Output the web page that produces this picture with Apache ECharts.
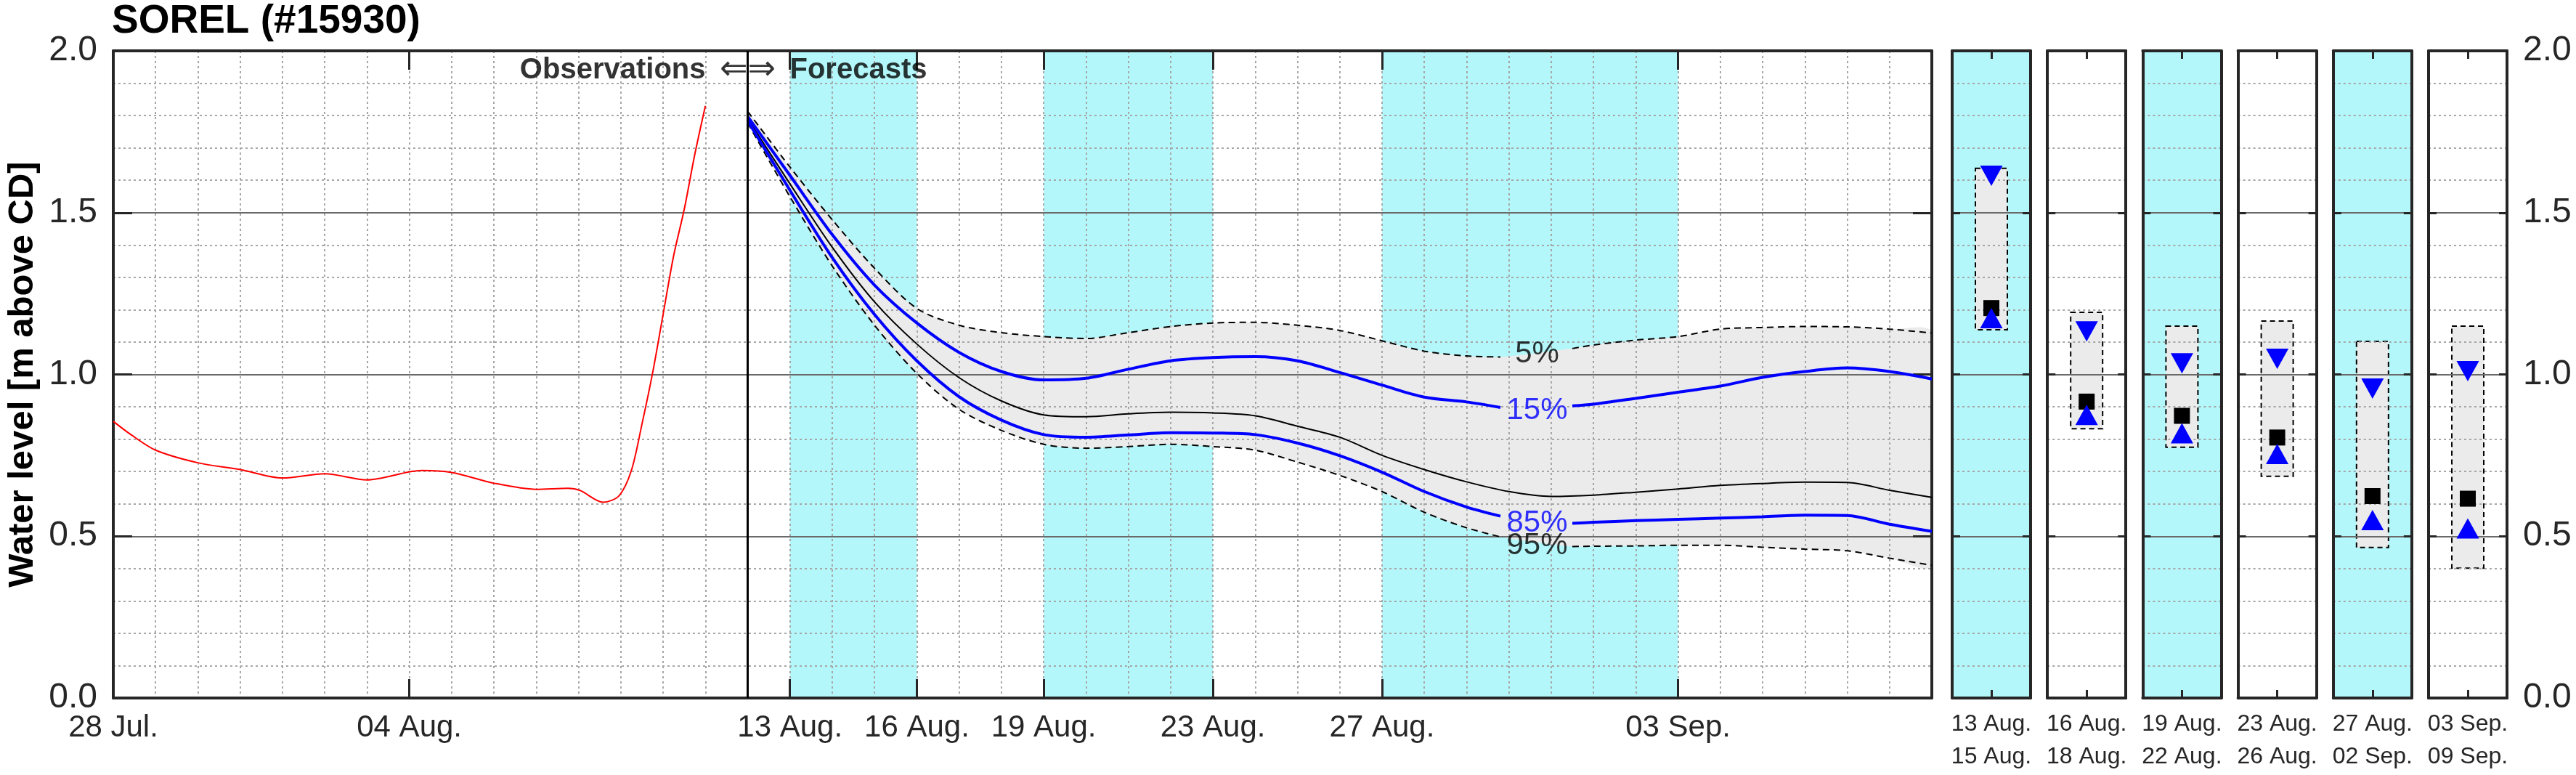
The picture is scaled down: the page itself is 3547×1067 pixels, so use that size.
<!DOCTYPE html>
<html>
<head>
<meta charset="utf-8">
<script src="https://cdn.jsdelivr.net/npm/echarts@6.0.0/dist/echarts.min.js"></script>
<style>
html,body{margin:0;padding:0;background:#ffffff;}
#chart{width:3547px;height:1067px;}
</style>
</head>
<body>
<div id="chart"></div>
<script>
// ---------------- data ----------------
const chartTitle = 'SOREL (#15930)';
const yAxisTitle = 'Water level [m above CD]';
const axisStart = '2024-07-28T00:00';
const axisEnd = '2024-09-09T00:00';
const forecastStart = '2024-08-12T00:00';
const yMin = 0, yMax = 2, yStep = 0.5;

const xTickDates = ['2024-07-28T00:00','2024-08-04T00:00','2024-08-13T00:00','2024-08-16T00:00','2024-08-19T00:00','2024-08-23T00:00','2024-08-27T00:00','2024-09-03T00:00'];
const xTickLabels = ['28 Jul.','04 Aug.','13 Aug.','16 Aug.','19 Aug.','23 Aug.','27 Aug.','03 Sep.'];

const shadeStarts = ['2024-08-13T00:00','2024-08-19T00:00','2024-08-27T00:00'];
const shadeEnds   = ['2024-08-16T00:00','2024-08-23T00:00','2024-09-03T00:00'];

// observed water level (red)
const obsTimes = ['2024-07-28T00:00','2024-07-28T10:00','2024-07-29T00:00','2024-07-30T00:00','2024-07-31T00:00','2024-08-01T00:00','2024-08-02T00:00','2024-08-03T00:00','2024-08-04T07:00','2024-08-05T00:00','2024-08-06T00:00','2024-08-07T00:00','2024-08-07T18:00','2024-08-08T01:00','2024-08-08T14:00','2024-08-08T23:00','2024-08-09T06:00','2024-08-09T12:00','2024-08-09T18:00','2024-08-10T00:00','2024-08-10T06:00','2024-08-10T12:00','2024-08-10T18:00','2024-08-11T00:00'];
const obsLevels = [0.855,0.814,0.766,0.727,0.706,0.680,0.693,0.674,0.703,0.697,0.664,0.645,0.648,0.641,0.605,0.625,0.703,0.846,1.003,1.185,1.367,1.510,1.680,1.830];

// forecast median (black)
const medTimes = ['2024-08-12T00:00','2024-08-13T00:00','2024-08-14T00:00','2024-08-15T00:00','2024-08-16T00:00','2024-08-17T00:00','2024-08-18T00:00','2024-08-19T00:00','2024-08-20T00:00','2024-08-21T00:00','2024-08-22T00:00','2024-08-23T00:00','2024-08-24T00:00','2024-08-25T00:00','2024-08-26T00:00','2024-08-27T00:00','2024-08-28T00:00','2024-08-29T00:00','2024-08-30T00:00','2024-08-31T00:00','2024-09-01T00:00','2024-09-02T00:00','2024-09-03T00:00','2024-09-04T00:00','2024-09-05T00:00','2024-09-06T00:00','2024-09-07T00:00','2024-09-08T00:00','2024-09-09T00:00'];
const p50 = [1.790,1.589,1.393,1.224,1.094,0.990,0.918,0.875,0.869,0.878,0.883,0.881,0.872,0.840,0.806,0.750,0.706,0.668,0.638,0.623,0.627,0.636,0.646,0.657,0.663,0.667,0.666,0.642,0.620];

// percentile curves (null = break for the contour label)
const pctTimes = ['2024-08-12T00:00','2024-08-13T00:00','2024-08-14T00:00','2024-08-15T00:00','2024-08-16T00:00','2024-08-17T00:00','2024-08-18T00:00','2024-08-19T00:00','2024-08-20T00:00','2024-08-21T00:00','2024-08-22T00:00','2024-08-23T00:00','2024-08-24T00:00','2024-08-25T00:00','2024-08-26T00:00','2024-08-27T00:00','2024-08-28T00:00','2024-08-29T00:00','2024-08-29T19:12','2024-08-30T14:24','2024-08-31T12:00','2024-09-01T00:00','2024-09-02T00:00','2024-09-03T00:00','2024-09-04T00:00','2024-09-05T00:00','2024-09-06T00:00','2024-09-07T00:00','2024-09-08T00:00','2024-09-09T00:00'];
const p05 = [1.813,1.641,1.478,1.328,1.204,1.152,1.129,1.117,1.111,1.129,1.148,1.159,1.161,1.152,1.136,1.104,1.072,1.057,1.054,null,1.080,1.091,1.106,1.117,1.140,1.145,1.148,1.147,1.140,1.128];
const p15 = [1.797,1.615,1.432,1.276,1.159,1.068,1.009,0.983,0.988,1.016,1.042,1.052,1.055,1.042,1.006,0.967,0.930,0.915,0.898,null,0.903,0.908,0.926,0.945,0.964,0.991,1.009,1.020,1.009,0.986];
const p85 = [1.784,1.569,1.361,1.185,1.042,0.931,0.859,0.814,0.806,0.813,0.820,0.819,0.814,0.788,0.749,0.698,0.638,0.590,0.562,null,0.540,0.543,0.548,0.552,0.556,0.560,0.565,0.564,0.537,0.515];
const p95 = [1.777,1.549,1.335,1.152,1.003,0.892,0.827,0.784,0.772,0.777,0.784,0.777,0.766,0.729,0.688,0.638,0.574,0.526,0.498,null,0.468,0.469,0.470,0.472,0.472,0.466,0.460,0.455,0.432,0.410];

const pctLabelTime = '2024-08-30T16:00';
const pctLabelTexts = ['5%','15%','85%','95%'];
const pctLabelLevels = [1.064,0.887,0.539,0.470];
const pctLabelColors = ['#000000','#0000ff','#0000ff','#000000'];

const annTexts = ['Observations','\u21D0\u21D2','Forecasts'];
const annLevel = 1.94;

// period panels
const panelLabels = ['13 Aug.\n15 Aug.','16 Aug.\n18 Aug.','19 Aug.\n22 Aug.','23 Aug.\n26 Aug.','27 Aug.\n02 Sep.','03 Sep.\n09 Sep.'];
const panelCyan = [true,false,true,false,true,false];
const panelHigh = [1.637,1.192,1.149,1.165,1.102,1.149];
const panelLow  = [1.138,0.832,0.775,0.685,0.465,0.401];
const panelP15  = [1.614,1.133,1.034,1.048,0.956,1.010];
const panelMed  = [1.205,0.916,0.872,0.805,0.624,0.616];
const panelP85  = [1.174,0.875,0.818,0.754,0.550,0.524];

// ---------------- helpers ----------------
const DAY = 86400000;
const t0 = Date.parse(axisStart + 'Z');
const dayOf = s => (Date.parse(s + 'Z') - t0) / DAY;
const pairs = (times, vals) => times.map((s, i) => [dayOf(s), vals[i] == null ? '-' : vals[i]]);

const FONT = '"Liberation Sans", Arial, Helvetica, sans-serif';
const FRAME = '#262626';
const CYAN = '#b3f7fa';
const BAND = '#ebebeb';
const dotted = {color: '#a6a6a6', width: 2, type: [3, 4]};
const majorLine = {color: '#6a6a6a', width: 2, type: 'solid'};

const xMax = dayOf(axisEnd);
const tickDays = xTickDates.map(dayOf);
const divDay = dayOf(forecastStart);

// ---------------- layout ----------------
const gridTop = 70, gridH = 891;
const grids = [{left: 156, top: gridTop, width: 2504, height: gridH, show: false, outerBoundsMode: 'none', containLabel: false}];
const panelLeft0 = 2688, panelPitch = 131.2, panelW = 108;
panelLabels.forEach((_, i) => {
  grids.push({left: panelLeft0 + i * panelPitch, top: gridTop, width: panelW, height: gridH, show: panelCyan[i],
    backgroundColor: CYAN, borderWidth: 0, outerBoundsMode: 'none', containLabel: false});
});

const xAxes = [
  {gridIndex: 0, type: 'value', min: 0, max: xMax, interval: 1, position: 'bottom', z: 2,
   axisLine: {show: false}, axisTick: {show: false}, axisLabel: {show: false},
   splitLine: {show: true, lineStyle: dotted}},
  {gridIndex: 0, type: 'value', min: 0, max: xMax, position: 'bottom', z: 2,
   axisLine: {show: true, onZero: false, lineStyle: {color: FRAME, width: 4}},
   axisTick: {show: true, inside: true, length: 26, customValues: tickDays, lineStyle: {color: FRAME, width: 3}},
   axisLabel: {show: true, customValues: tickDays, margin: 20, fontSize: 42, fontFamily: FONT, color: '#262626',
     formatter: v => { const i = tickDays.findIndex(d => Math.abs(d - v) < 1e-6); return i >= 0 ? xTickLabels[i] : ''; }},
   splitLine: {show: false}},
  {gridIndex: 0, type: 'value', min: 0, max: xMax, position: 'top', z: 2,
   axisLine: {show: true, onZero: false, lineStyle: {color: FRAME, width: 4}},
   axisTick: {show: true, inside: true, length: 26, customValues: tickDays, lineStyle: {color: FRAME, width: 3}},
   axisLabel: {show: false}, splitLine: {show: false}}
];
const yAxes = [
  {gridIndex: 0, type: 'value', min: yMin, max: yMax, interval: yStep, position: 'left', z: 2,
   axisLine: {show: true, onZero: false, lineStyle: {color: FRAME, width: 4}},
   axisTick: {show: true, inside: true, length: 26, lineStyle: {color: FRAME, width: 3}},
   axisLabel: {show: true, margin: 22, fontSize: 48, fontFamily: FONT, color: '#262626', formatter: v => v.toFixed(1), showMinLabel: true, showMaxLabel: true},
   splitLine: {show: true, lineStyle: majorLine},
   minorTick: {show: false, splitNumber: 5},
   minorSplitLine: {show: true, lineStyle: dotted},
   name: yAxisTitle, nameLocation: 'middle', nameGap: 100,
   nameTextStyle: {fontSize: 49, fontWeight: 'bold', fontFamily: FONT, color: '#000'}},
  {gridIndex: 0, type: 'value', min: yMin, max: yMax, interval: yStep, position: 'right', z: 2,
   axisLine: {show: true, onZero: false, lineStyle: {color: FRAME, width: 4}},
   axisTick: {show: true, inside: true, length: 26, lineStyle: {color: FRAME, width: 3}},
   axisLabel: {show: false}, splitLine: {show: false}}
];

panelLabels.forEach((lab, i) => {
  const g = i + 1;
  xAxes.push({gridIndex: g, type: 'category', data: [lab], position: 'bottom', z: 2,
    axisLine: {show: true, onZero: false, lineStyle: {color: FRAME, width: 4}},
    axisTick: {show: true, inside: true, alignWithLabel: true, length: 11, lineStyle: {color: FRAME, width: 3}},
    axisLabel: {show: true, margin: 14, fontSize: 32, lineHeight: 45, fontFamily: FONT, color: '#262626', interval: 0},
    splitLine: {show: false}});
  xAxes.push({gridIndex: g, type: 'category', data: [lab], position: 'top', z: 2,
    axisLine: {show: true, onZero: false, lineStyle: {color: FRAME, width: 4}},
    axisTick: {show: true, inside: true, alignWithLabel: true, length: 11, lineStyle: {color: FRAME, width: 3}},
    axisLabel: {show: false}, splitLine: {show: false}});
  yAxes.push({gridIndex: g, type: 'value', min: yMin, max: yMax, interval: yStep, position: 'left', z: 2,
    axisLine: {show: true, onZero: false, lineStyle: {color: FRAME, width: 4}},
    axisTick: {show: true, inside: true, length: 11, lineStyle: {color: FRAME, width: 3}},
    axisLabel: {show: false},
    splitLine: {show: true, lineStyle: majorLine},
    minorTick: {show: false, splitNumber: 5},
    minorSplitLine: {show: true, lineStyle: dotted}});
  yAxes.push({gridIndex: g, type: 'value', min: yMin, max: yMax, interval: yStep, position: 'right', z: 2,
    axisLine: {show: true, onZero: false, lineStyle: {color: FRAME, width: 4}},
    axisTick: {show: true, inside: true, length: 11, lineStyle: {color: FRAME, width: 3}},
    axisLabel: {show: i === panelLabels.length - 1, margin: 22, fontSize: 48, fontFamily: FONT, color: '#262626',
      formatter: v => v.toFixed(1), showMinLabel: true, showMaxLabel: true},
    splitLine: {show: false}});
});

// ---------------- series ----------------
const series = [];

// cyan forecast periods
series.push({
  type: 'custom', xAxisIndex: 0, yAxisIndex: 0, z: 0, silent: true, clip: true,
  data: shadeStarts.map((s, i) => [dayOf(s), dayOf(shadeEnds[i])]),
  encode: {x: [0, 1]},
  renderItem: (params, api) => {
    const a = api.coord([api.value(0), yMax]);
    const b = api.coord([api.value(1), yMin]);
    return {type: 'rect', shape: {x: a[0], y: a[1], width: b[0] - a[0], height: b[1] - a[1]}, style: {fill: CYAN}};
  }
});

// 5%-95% band
series.push({
  type: 'custom', xAxisIndex: 0, yAxisIndex: 0, z: 1, silent: true, clip: true,
  data: [[0, 0]],
  renderItem: (params, api) => {
    const up = pctTimes.map((s, i) => [dayOf(s), p05[i]]).filter(p => p[1] != null);
    const lo = pctTimes.map((s, i) => [dayOf(s), p95[i]]).filter(p => p[1] != null).reverse();
    const pts = up.concat(lo).map(p => api.coord(p));
    return {type: 'polygon', shape: {points: pts, smooth: 0.3}, style: {fill: BAND}};
  }
});

const lineBase = {type: 'line', xAxisIndex: 0, yAxisIndex: 0, showSymbol: false, symbol: 'none', smooth: 0.3,
  connectNulls: false, silent: true, z: 3};
series.push(Object.assign({}, lineBase, {name: '5%', data: pairs(pctTimes, p05), lineStyle: {color: '#000', width: 2, type: [9, 6]}}));
series.push(Object.assign({}, lineBase, {name: '95%', data: pairs(pctTimes, p95), lineStyle: {color: '#000', width: 2, type: [9, 6]}}));
series.push(Object.assign({}, lineBase, {name: 'median', data: pairs(medTimes, p50), lineStyle: {color: '#000', width: 2}}));
series.push(Object.assign({}, lineBase, {name: '15%', data: pairs(pctTimes, p15), lineStyle: {color: '#0000ff', width: 4}}));
series.push(Object.assign({}, lineBase, {name: '85%', data: pairs(pctTimes, p85), lineStyle: {color: '#0000ff', width: 4}}));
series.push(Object.assign({}, lineBase, {name: 'observed', data: pairs(obsTimes, obsLevels), lineStyle: {color: '#ff0000', width: 2},
  markLine: {silent: true, symbol: 'none', label: {show: false}, lineStyle: {color: '#000', width: 3, type: 'solid'},
    data: [{xAxis: divDay}]}}));

// percentile labels
series.push({
  type: 'scatter', xAxisIndex: 0, yAxisIndex: 0, symbolSize: 0, silent: true, z: 4,
  data: pctLabelTexts.map((txt, i) => ({value: [dayOf(pctLabelTime), pctLabelLevels[i]],
    label: {show: true, position: 'inside', formatter: txt, color: pctLabelColors[i], fontSize: 42, fontFamily: FONT}}))
});

// observations / forecasts annotation
series.push({
  type: 'scatter', xAxisIndex: 0, yAxisIndex: 0, symbolSize: 0, silent: true, z: 4,
  data: [
    {value: [divDay, annLevel], label: {show: true, position: 'left', distance: 58, formatter: annTexts[0], color: '#000', fontSize: 40, fontWeight: 'bold', fontFamily: FONT}},
    {value: [divDay, annLevel], label: {show: true, position: 'inside', formatter: annTexts[1], color: '#000', fontSize: 46, fontFamily: '"DejaVu Sans", sans-serif'}},
    {value: [divDay, annLevel], label: {show: true, position: 'right', distance: 58, formatter: annTexts[2], color: '#000', fontSize: 40, fontWeight: 'bold', fontFamily: FONT}}
  ]
});

// panels
panelLabels.forEach((lab, i) => {
  const xi = 3 + i * 2, yi = 2 + i * 2;
  series.push({
    type: 'custom', xAxisIndex: xi, yAxisIndex: yi, z: 1, silent: true,
    data: [[0, panelLow[i], panelHigh[i]]],
    encode: {x: 0, y: [1, 2]},
    renderItem: (params, api) => {
      const hi = api.coord([api.value(0), api.value(2)]);
      const lo = api.coord([api.value(0), api.value(1)]);
      return {type: 'rect', shape: {x: hi[0] - 22, y: hi[1], width: 44, height: lo[1] - hi[1]},
        style: {fill: BAND, stroke: '#000', lineWidth: 2, lineDash: [7, 5]}};
    }
  });
  series.push({type: 'scatter', xAxisIndex: xi, yAxisIndex: yi, z: 3, silent: true,
    symbol: 'rect', symbolSize: 22, itemStyle: {color: '#000000', opacity: 1}, data: [[0, panelMed[i]]]});
  series.push({type: 'scatter', xAxisIndex: xi, yAxisIndex: yi, z: 4, silent: true,
    symbol: 'triangle', symbolRotate: 180, symbolSize: [31, 28], itemStyle: {color: '#0000ff', opacity: 1}, data: [[0, panelP15[i]]]});
  series.push({type: 'scatter', xAxisIndex: xi, yAxisIndex: yi, z: 4, silent: true,
    symbol: 'triangle', symbolSize: [31, 28], itemStyle: {color: '#0000ff', opacity: 1}, data: [[0, panelP85[i]]]});
});

const chart = echarts.init(document.getElementById('chart'), null, {renderer: 'canvas'});
chart.setOption({
  animation: false,
  backgroundColor: '#ffffff',
  title: {text: chartTitle, left: 154, top: 2, padding: 0,
    textStyle: {fontSize: 55, fontWeight: 'bold', fontFamily: FONT, color: '#000'}},
  grid: grids,
  xAxis: xAxes,
  yAxis: yAxes,
  series: series
});
</script>
</body>
</html>
